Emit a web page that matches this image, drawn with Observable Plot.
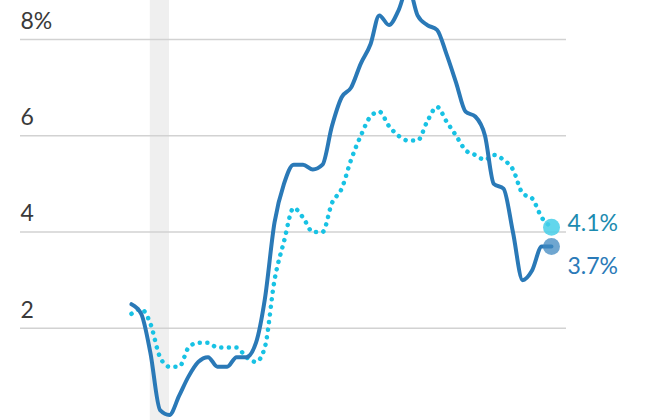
<!DOCTYPE html>
<html>
<head>
<meta charset="utf-8">
<script src="https://cdn.jsdelivr.net/npm/d3@7"></script>
<script src="https://cdn.jsdelivr.net/npm/@observablehq/plot@0.6"></script>
<style>
  body { margin: 0; background: #fff; }
  svg { overflow: hidden; }
</style>
</head>
<body>
<div id="chart"></div>
<script>
const months = [
  "2020-01","2020-02","2020-03","2020-04","2020-05","2020-06","2020-07","2020-08","2020-09","2020-10","2020-11","2020-12",
  "2021-01","2021-02","2021-03","2021-04","2021-05","2021-06","2021-07","2021-08","2021-09","2021-10","2021-11","2021-12",
  "2022-01","2022-02","2022-03","2022-04","2022-05","2022-06","2022-07","2022-08","2022-09","2022-10","2022-11","2022-12",
  "2023-01","2023-02","2023-03","2023-04","2023-05","2023-06","2023-07","2023-08","2023-09"
];
const headline = [
  2.5,2.3,1.5,0.3,0.2,0.6,1.0,1.3,1.4,1.2,1.2,1.4,
  1.4,1.7,2.6,4.2,5.0,5.4,5.4,5.3,5.4,6.2,6.8,7.0,
  7.5,7.9,8.5,8.3,8.6,9.1,8.5,8.3,8.2,7.7,7.1,6.5,
  6.4,6.0,5.0,4.9,4.0,3.0,3.2,3.7,3.7
];
const core = [
  2.3,2.4,2.1,1.4,1.2,1.2,1.6,1.7,1.7,1.6,1.6,1.6,
  1.4,1.3,1.6,3.0,3.8,4.5,4.3,4.0,4.0,4.6,4.9,5.5,
  6.0,6.4,6.5,6.2,6.0,5.9,5.9,6.3,6.6,6.3,6.0,5.7,
  5.6,5.5,5.6,5.5,5.3,4.8,4.7,4.3,4.1
];
const yTicks = [2, 4, 6, 8];
const recession = [{start: "2020-03-01", end: "2020-05-01"}];

const parse = d3.utcParse("%Y-%m");
const headData = months.map((m, i) => ({date: parse(m), value: headline[i]}));
const coreData = months.map((m, i) => ({date: parse(m), value: core[i]}));
const lastHead = headData[headData.length - 1];
const lastCore = coreData[coreData.length - 1];
const band = recession.map(r => ({x1: new Date(r.start), x2: new Date(r.end)}));

const SOLID = "#2a79b7";
const DOTTED = "#18c2e4";
const FONT = "Lato, 'Open Sans', sans-serif";

const chart = Plot.plot({
  width: 660,
  height: 420,
  marginLeft: 20,
  marginRight: 94,
  marginTop: 0,
  marginBottom: 0,
  style: {fontFamily: FONT, background: "#fff"},
  x: {type: "utc", domain: [parse("2020-01"), parse("2023-09")], range: [131, 551], axis: null},
  y: {domain: [0, 8], range: [424, 39], axis: null},
  marks: [
    Plot.rectX(band, {x1: "x1", x2: "x2", y1: -1, y2: 10, fill: "#efefef"}),
    Plot.ruleY(yTicks, {stroke: "#d2d2d2", strokeWidth: 1.5}),
    Plot.text(yTicks, {
      y: d => d, frameAnchor: "left", dy: -18, textAnchor: "start",
      text: d => d === 8 ? "8%" : String(d), fontSize: 23, fill: "#3a3a3a"
    }),
    Plot.line(coreData, {
      x: "date", y: "value", stroke: DOTTED, strokeWidth: 4.5,
      strokeDasharray: "0.1 7.5", strokeLinecap: "round", curve: "monotone-x"
    }),
    Plot.line(headData, {
      x: "date", y: "value", stroke: SOLID, strokeWidth: 4, curve: "monotone-x"
    }),
    Plot.dot([lastCore], {x: "date", y: "value", r: 8.5, fill: "#47cfe9", fillOpacity: 0.85}),
    Plot.dot([lastHead], {x: "date", y: "value", r: 8.5, fill: "#3f88c0", fillOpacity: 0.75}),
    Plot.text([lastCore], {
      x: "date", y: "value", text: d => d.value.toFixed(1) + "%",
      dx: 16, dy: -4, textAnchor: "start", fontSize: 23, fill: "#1c8bb0"
    }),
    Plot.text([lastHead], {
      x: "date", y: "value", text: d => d.value.toFixed(1) + "%",
      dx: 16, dy: 20, textAnchor: "start", fontSize: 23, fill: "#2a7ab8"
    })
  ]
});
document.getElementById("chart").appendChild(chart);
</script>
</body>
</html>
